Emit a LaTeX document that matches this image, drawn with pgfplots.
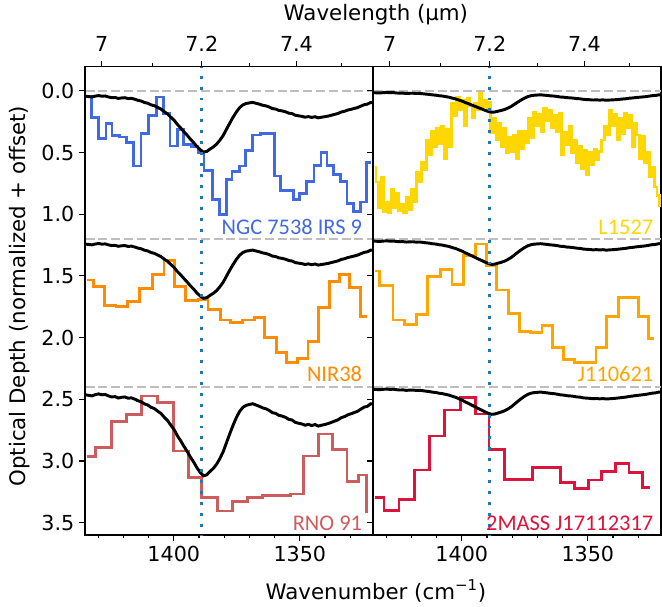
\documentclass[border=0pt]{standalone}
\usepackage{fontspec}
\setmainfont{DejaVu Sans}
\newfontfamily\carlito{Carlito}
\usepackage{pgfplots}
\usepackage{pgfplotstable}
\pgfplotsset{compat=1.18}

\definecolor{ngc}{RGB}{65,105,225}
\definecolor{nir}{RGB}{255,140,0}
\definecolor{rno}{RGB}{205,92,92}
\definecolor{lyel}{RGB}{255,215,0}
\definecolor{jor}{RGB}{255,165,0}
\definecolor{mass}{RGB}{220,20,60}
\definecolor{dotblue}{RGB}{31,119,180}
\definecolor{dashgray}{RGB}{190,190,190}

% laboratory ice band, normalised (scaled per source below)
\pgfplotstableread{
wn tau
1435.0 0.044
1433.7 0.047
1432.4 0.050
1431.1 0.043
1429.8 0.039
1428.5 0.044
1427.2 0.042
1425.9 0.050
1424.6 0.056
1423.3 0.054
1422.0 0.062
1420.7 0.058
1419.4 0.056
1418.1 0.063
1416.8 0.061
1415.5 0.068
1414.2 0.077
1412.9 0.083
1411.6 0.095
1410.3 0.101
1409.0 0.114
1407.7 0.121
1406.4 0.135
1405.1 0.148
1403.8 0.169
1402.5 0.187
1401.2 0.213
1399.9 0.238
1398.6 0.272
1397.3 0.300
1396.0 0.331
1394.7 0.360
1393.4 0.392
1392.1 0.420
1390.8 0.452
1389.5 0.478
1388.2 0.497
1386.9 0.491
1385.6 0.472
1384.3 0.455
1383.0 0.432
1381.7 0.400
1380.4 0.362
1379.1 0.312
1377.8 0.262
1376.5 0.215
1375.2 0.172
1373.9 0.137
1372.6 0.114
1371.3 0.103
1370.0 0.098
1368.7 0.094
1367.4 0.101
1366.1 0.108
1364.8 0.117
1363.5 0.122
1362.2 0.131
1360.9 0.144
1359.6 0.148
1358.3 0.159
1357.0 0.163
1355.7 0.170
1354.4 0.181
1353.1 0.185
1351.8 0.198
1350.5 0.203
1349.2 0.207
1347.9 0.214
1346.6 0.209
1345.3 0.216
1344.0 0.210
1342.7 0.219
1341.4 0.214
1340.1 0.210
1338.8 0.205
1337.5 0.198
1336.2 0.191
1334.9 0.184
1333.6 0.172
1332.3 0.166
1331.0 0.156
1329.7 0.150
1328.4 0.143
1327.1 0.136
1325.8 0.124
1324.5 0.113
1323.2 0.108
1321.9 0.094
1320.6 0.097
1319.3 0.095
}\labice

\tikzset{
  src/.style={anchor=base east, font=\carlito\fontsize{16.8}{20}\selectfont},
}
\pgfplotsset{
  panel/.style={
    scale only axis, width=216pt, height=351.2pt, anchor=south west,
    x dir=reverse, y dir=reverse,
    xmin=1321.0, xmax=1435.2, ymin=-0.195, ymax=3.6,
    tick align=outside, major tick length=4.5pt, minor tick length=2.6pt,
    every tick/.style={black, line width=0.9pt},
    axis line style={line width=0.9pt},
    xtick={1350,1400},
    minor xtick={1330,1340,1360,1370,1380,1390,1410,1420,1430},
    xtick pos=left, ytick pos=left,
    ytick={0,0.5,1,1.5,2,2.5,3,3.5},
    font=\fontsize{16}{19}\selectfont,
    ticklabel style={font=\fontsize{15.5}{18}\selectfont},
    /pgf/number format/assume math mode=true,
    /pgf/number format/1000 sep={},
    yticklabel style={/pgf/number format/fixed, /pgf/number format/fixed zerofill,
      /pgf/number format/precision=1},
  },
  toppanel/.style={
    scale only axis, width=216pt, height=351.2pt, anchor=south west,
    x dir=reverse, xmin=1321.0, xmax=1435.2, ymin=0, ymax=1,
    axis x line*=top, hide y axis, clip=false,
    tick align=outside, major tick length=4.5pt, minor tick length=2.6pt,
    every tick/.style={black, line width=0.9pt},
    axis line style={line width=0.9pt},
    xtick={1428.571,1388.889,1351.351}, xticklabels={7,7.2,7.4},
    minor xtick={1408.451,1369.863,1333.333},
    ticklabel style={font=\fontsize{15.5}{18}\selectfont, inner sep=7pt},
  },
  dline/.style={dashgray, line width=1.8pt, dash pattern=on 6.7pt off 2.9pt},
  vline/.style={dotblue, line width=2.2pt, dash pattern=on 2.2pt off 6pt},
  lab/.style={black, line width=2.2pt},
  stp/.style={const plot, line width=2.1pt},
}

\begin{document}
\begin{tikzpicture}

% ---- left panel ----
\begin{axis}[panel, at={(63.75pt,54pt)},
  xlabel={Wavenumber (cm\textsuperscript{−1})},
  xlabel style={at={(axis description cs:1.01,-0.137)}, anchor=base},
  ylabel={Optical Depth (normalized + offset)},
  ylabel style={at={(axis description cs:-0.208,0.51)}, anchor=base},
]
\addplot[dline] coordinates {(1440,0) (1310,0)};
\addplot[dline] coordinates {(1440,1.2) (1310,1.2)};
\addplot[dline] coordinates {(1440,2.4) (1310,2.4)};

\addplot[stp, ngc] coordinates {
(1433.4,0.049) (1432.6,0.219) (1430.0,0.389) (1426.9,0.265) (1424.5,0.362)
(1421.5,0.375) (1418.6,0.416) (1416.0,0.610) (1413.0,0.348) (1410.1,0.200)
(1407.0,0.051) (1404.2,0.186) (1401.5,0.448) (1398.6,0.313) (1396.0,0.435)
(1393.0,0.454) (1390.4,0.497) (1388.0,0.643) (1384.7,0.880) (1381.9,1.002)
(1379.2,0.718) (1376.9,0.651) (1374.0,0.610) (1371.4,0.483) (1368.7,0.359)
(1365.7,0.346) (1360.2,0.691) (1357.6,0.805) (1352.6,0.880) (1350.0,0.835)
(1347.3,0.732) (1344.4,0.605) (1341.6,0.502) (1339.2,0.605) (1336.6,0.678)
(1334.0,0.732) (1331.3,0.916) (1328.7,0.980) (1326.1,0.902) (1323.5,0.583)
(1321.9,0.583)};

\addplot[stp, nir] coordinates {
(1434.3,1.534) (1431.7,1.583) (1427.5,1.737) (1422.9,1.750) (1418.3,1.710)
(1413.6,1.602) (1408.4,1.486) (1403.9,1.378) (1399.8,1.583) (1395.2,1.702)
(1390.4,1.691) (1386.4,1.772) (1381.5,1.858) (1377.5,1.877) (1372.7,1.858)
(1368.1,1.837) (1363.9,2.001) (1359.3,2.123) (1355.3,2.201) (1351.0,2.169)
(1346.8,2.029) (1342.5,1.756) (1338.1,1.548) (1334.2,1.488) (1330.3,1.596)
(1326.1,1.826) (1323.5,1.826)};

\addplot[stp, rno] coordinates {
(1434.3,2.965) (1431.1,2.892) (1424.8,2.682) (1418.6,2.622) (1412.7,2.474)
(1406.4,2.528) (1400.2,2.919) (1394.3,3.133) (1389.1,3.295) (1382.5,3.406)
(1376.6,3.330) (1370.7,3.295) (1364.8,3.281) (1353.6,3.268) (1348.4,2.960)
(1342.5,2.782) (1337.2,2.906) (1331.3,3.168) (1326.7,3.114) (1323.5,3.425)};

\addplot[lab] table[x=wn, y expr=\thisrow{tau}] {\labice};
\addplot[lab] table[x=wn, y expr=0.97*\thisrow{tau}+1.2] {\labice};
\addplot[lab] table[x=wn, y expr=1.45*\thisrow{tau}+2.4] {\labice};

\addplot[vline] coordinates {(1388.889,-0.3) (1388.889,3.7)};

\node[src, text=ngc] at (axis cs:1323.5,1.161) {NGC 7538 IRS 9};
\node[src, text=nir] at (axis cs:1323.5,2.358) {NIR38};
\node[src, text=rno] at (axis cs:1323.5,3.566) {RNO 91};
\end{axis}

\begin{axis}[toppanel, at={(63.75pt,54pt)}]
\node[anchor=base, font=\fontsize{16}{19}\selectfont] at (axis description cs:1.01,1.0997) {Wavelength (µm)};
\end{axis}

% ---- right panel ----
\begin{axis}[panel, at={(279.75pt,54pt)}, yticklabels={}]
\addplot[dline] coordinates {(1440,0) (1310,0)};
\addplot[dline] coordinates {(1440,1.2) (1310,1.2)};
\addplot[dline] coordinates {(1440,2.4) (1310,2.4)};

\addplot[const plot, lyel, line width=1.9pt] coordinates {
(1434.6,0.62) (1434,0.74) (1433,0.95) (1432,0.70) (1431,0.98) (1430,0.90)
(1429,0.99) (1428,0.80) (1427,0.95) (1426,0.83) (1425,0.97) (1424,0.92)
(1423,0.99) (1422,0.86) (1421,0.96) (1420,0.80) (1419,0.90) (1418,0.66)
(1417,0.74) (1416,0.58) (1415,0.64) (1414,0.40) (1413,0.52) (1412,0.33)
(1411,0.45) (1410,0.30) (1409,0.43) (1408,0.29) (1407,0.55) (1406,0.31)
(1405,0.45) (1404,0.10) (1403,0.20) (1402,0.05) (1401,0.15) (1400,0.08)
(1399,0.28) (1398,0.06) (1397,0.12) (1396,0.22) (1395,0.10) (1394,0.15)
(1393,0.02) (1392,0.13) (1391,0.08) (1390,0.16) (1389.5,0.09) (1388.6,0.34)
(1387.5,0.22) (1386.5,0.40) (1385.5,0.26) (1384.5,0.45) (1383.5,0.30)
(1382.5,0.50) (1381.5,0.38) (1380.5,0.49) (1379.5,0.36) (1378.5,0.55)
(1377.5,0.33) (1376.5,0.47) (1375.5,0.33) (1374.5,0.42) (1373.5,0.22)
(1372.5,0.38) (1371.5,0.17) (1370.5,0.28) (1369.5,0.19) (1368.5,0.33)
(1367.5,0.14) (1366.5,0.24) (1365.5,0.16) (1364.5,0.30) (1363.5,0.20)
(1362.5,0.33) (1361.5,0.18) (1360.5,0.52) (1359.5,0.34) (1358.5,0.44)
(1357.5,0.29) (1356.5,0.50) (1355.5,0.40) (1354.5,0.58) (1353.5,0.45)
(1352.5,0.63) (1351.5,0.48) (1350.5,0.68) (1349.5,0.50) (1348.5,0.60)
(1347.5,0.47) (1346.5,0.56) (1345.5,0.49) (1344.5,0.40) (1343.5,0.29)
(1342.5,0.36) (1341.5,0.16) (1340.5,0.28) (1339.5,0.19) (1338.5,0.40)
(1337.5,0.22) (1336.5,0.35) (1335.5,0.18) (1334.5,0.30) (1333.5,0.20)
(1332.5,0.45) (1331.5,0.26) (1330.5,0.36) (1329.5,0.55) (1328.5,0.37)
(1327.5,0.58) (1326.5,0.50) (1325.5,0.70) (1324.5,0.62) (1323.5,0.78)
(1322.5,0.85) (1321.5,0.93) (1320.8,0.93)};

\addplot[stp, jor] coordinates {
(1434.4,1.461) (1432.5,1.575) (1427.3,1.858) (1422.7,1.893) (1418.1,1.810)
(1413.5,1.502) (1408.5,1.448) (1403.9,1.567) (1399.3,1.332) (1394.7,1.242)
(1390.1,1.413) (1386.2,1.615) (1381.6,1.804) (1377.0,1.953) (1372.7,1.961)
(1368.2,1.899) (1363.9,2.080) (1359.6,2.177) (1355.3,2.201) (1346.8,2.080)
(1342.5,1.826) (1338.0,1.677) (1330.0,1.831) (1325.8,2.007) (1323.9,2.007)};

\addplot[stp, mass] coordinates {
(1434.4,3.298) (1430.8,3.403) (1424.9,3.311) (1418.7,3.073) (1412.8,2.798)
(1406.8,2.587) (1400.6,2.484) (1394.7,2.620) (1389.2,2.906) (1383.2,3.149)
(1372.0,3.052) (1360.9,3.176) (1355.3,3.222) (1349.8,3.154) (1344.6,3.087)
(1338.9,3.019) (1333.7,3.095) (1328.4,3.217) (1325.4,3.217)};

\addplot[lab] table[x=wn, y expr=0.35*\thisrow{tau}] {\labice};
\addplot[lab] table[x=wn, y expr=0.417*\thisrow{tau}+1.2] {\labice};
\addplot[lab] table[x=wn, y expr=0.447*\thisrow{tau}+2.4] {\labice};

\addplot[vline] coordinates {(1388.889,-0.3) (1388.889,3.7)};

\node[src, text=lyel] at (axis cs:1322.2,1.161) {L1527};
\node[src, text=jor] at (axis cs:1322.2,2.358) {J110621};
\node[src, text=mass] at (axis cs:1322.2,3.566) {2MASS J17112317};
\end{axis}

\begin{axis}[toppanel, at={(279.75pt,54pt)}]
\end{axis}

\pgfresetboundingbox
\path[use as bounding box] (0,0) rectangle (496.5pt,455.25pt);
\end{tikzpicture}
\end{document}
